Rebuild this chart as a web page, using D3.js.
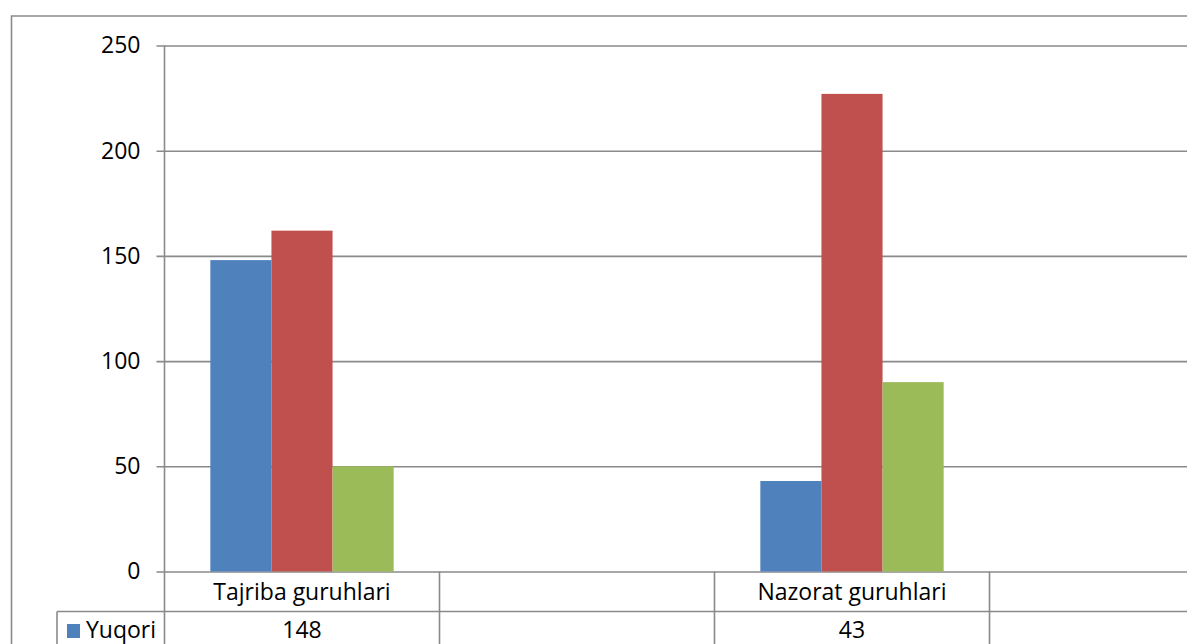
<!DOCTYPE html>
<html>
<head>
<meta charset="utf-8">
<script src="https://cdn.jsdelivr.net/npm/d3@7"></script>
<style>
  html, body { margin: 0; padding: 0; background: #fff; overflow: hidden; }
  svg { display: block; }
  text { font-family: "Open Sans", sans-serif; fill: #000; }
</style>
</head>
<body>
<script>
// ---- data ----
const categories = ["Tajriba guruhlari", "", "Nazorat guruhlari", ""];
const seriesNames = ["Yuqori", "O'rta", "Quyi"];
const yuqori = [148, null, 43, null];
const orta   = [162, null, 227, null];
const quyi   = [50, null, 90, null];
const yTicks = [0, 50, 100, 150, 200, 250];
const colors = ["#4F81BD", "#C0504D", "#9BBB59"];

const series = [yuqori, orta, quyi];

const W = 1187, H = 644;
const svg = d3.select("body").append("svg").attr("width", W).attr("height", H);

const plot = { left: 164.5, right: 1264.5, top: 45.5, bottom: 571.5 };
const gridColor = "#8a8a8a";

// outer chart border (extends beyond the visible window)
svg.append("path")
  .attr("d", `M11.5,${H + 5} L11.5,16 L${W + 5},16`)
  .attr("fill", "none").attr("stroke", gridColor).attr("stroke-width", 1.6);

const x = d3.scaleBand().domain(d3.range(categories.length))
  .range([plot.left, plot.right]).paddingInner(0).paddingOuter(0);
const inner = d3.scaleBand().domain(d3.range(series.length))
  .range([0, x.bandwidth()]).paddingOuter(0.75).paddingInner(0);
const y = d3.scaleLinear().domain([0, 250]).range([plot.bottom, plot.top]);

// gridlines + tick marks
const yAxis = d3.axisLeft(y).tickValues(yTicks).tickSize(-(plot.right - plot.left)).tickPadding(24);
const gy = svg.append("g").attr("transform", `translate(${plot.left},0)`).call(yAxis);
gy.select(".domain").remove();
gy.selectAll(".tick line").attr("x1", -8).attr("stroke", gridColor).attr("stroke-width", 1.6);
gy.selectAll(".tick text").attr("font-size", 23).attr("font-family", "Open Sans, sans-serif").attr("fill", "#000");

// bars
series.forEach((vals, si) => {
  svg.append("g").selectAll("rect")
    .data(vals.map((v, i) => ({ v, i })).filter(d => d.v != null))
    .join("rect")
    .attr("x", d => x(d.i) + inner(si))
    .attr("width", inner.bandwidth())
    .attr("y", d => y(d.v))
    .attr("height", d => y(0) - y(d.v))
    .attr("fill", colors[si]);
});

// y axis line
svg.append("line")
  .attr("x1", plot.left).attr("x2", plot.left)
  .attr("y1", plot.top).attr("y2", H + 5)
  .attr("stroke", gridColor).attr("stroke-width", 1.6);

// data table
const rowH = 40;
const catRowTop = plot.bottom;
const legendLeft = 57;
const g = svg.append("g");

// category row
g.selectAll("text.cat").data(categories).join("text")
  .attr("class", "cat")
  .attr("x", (d, i) => x(i) + x.bandwidth() / 2)
  .attr("y", catRowTop + rowH / 2)
  .attr("dy", "0.35em").attr("text-anchor", "middle").attr("font-size", 23)
  .text(d => d);

// column separators
g.selectAll("line.col").data(d3.range(1, categories.length + 1)).join("line")
  .attr("class", "col")
  .attr("x1", i => x(0) + i * x.bandwidth()).attr("x2", i => x(0) + i * x.bandwidth())
  .attr("y1", catRowTop).attr("y2", H + 5)
  .attr("stroke", gridColor).attr("stroke-width", 1.6);

// series rows (only those within the window)
series.forEach((vals, si) => {
  const top = catRowTop + rowH * (si + 1);
  if (top >= H) return;
  g.append("line").attr("x1", legendLeft).attr("x2", W + 5)
    .attr("y1", top).attr("y2", top)
    .attr("stroke", gridColor).attr("stroke-width", 1.6);
  if (si === 0) {
    g.append("line").attr("x1", legendLeft).attr("x2", legendLeft)
      .attr("y1", top).attr("y2", H + 5)
      .attr("stroke", gridColor).attr("stroke-width", 1.6);
  }
  const cy = top + rowH / 2 - 1.5;
  if (cy + 8 > H) return;
  g.append("rect").attr("x", 67).attr("y", cy - 6).attr("width", 13).attr("height", 14)
    .attr("fill", colors[si]);
  g.append("text").attr("x", 86).attr("y", cy).attr("dy", "0.35em")
    .attr("font-size", 23).text(seriesNames[si]);
  g.selectAll(null).data(vals.map((v, i) => ({ v, i })).filter(d => d.v != null)).join("text")
    .attr("x", d => x(d.i) + x.bandwidth() / 2)
    .attr("y", cy).attr("dy", "0.35em").attr("text-anchor", "middle").attr("font-size", 23)
    .text(d => d.v);
});
</script>
</body>
</html>
